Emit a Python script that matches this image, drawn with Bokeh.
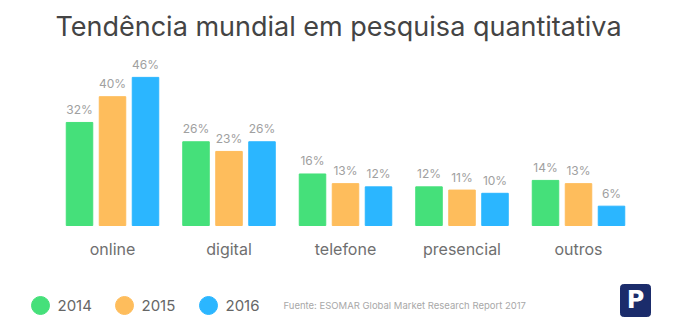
from bokeh.plotting import figure
from bokeh.models import Range1d, ColumnDataSource
from bokeh.core.properties import value
from bokeh.embed import file_html
from bokeh.resources import INLINE

categories = ["online", "digital", "telefone", "presencial", "outros"]
years = ["2014", "2015", "2016"]
v2014 = [32, 26, 16, 12, 14]
v2015 = [40, 23, 13, 11, 13]
v2016 = [46, 26, 12, 10, 6]
colors = ["#45E07A", "#FEBD5C", "#2BB6FF"]
title = "Tendência mundial em pesquisa quantitativa"
source_note = "Fuente: ESOMAR Global Market Research Report 2017"

W, H = 676, 335
base_px = 225.0
ppu = 3.22
p = figure(width=W, height=H, output_backend="svg", toolbar_location=None,
           x_range=Range1d(0, W), y_range=Range1d(-(H - base_px) / ppu, base_px / ppu),
           min_border=0)
p.axis.visible = False
p.grid.visible = False
p.outline_line_color = None
p.background_fill_color = "white"

def py(pix):
    # convert pixel-from-top to y units
    return (base_px - pix) / ppu

FONT = "Inter"
first = 112.0
step = 116.5
offs = [-33.0, 0.0, 33.0]
bw = 26.5
series = [v2014, v2015, v2016]
for j, vals in enumerate(series):
    xs = [first + i * step + offs[j] for i in range(len(categories))]
    src = ColumnDataSource(dict(x=xs, top=vals, lab=[f"{v}%" for v in vals],
                                ly=[v + 5.5 / ppu for v in vals]))
    p.vbar(x="x", top="top", bottom=0, width=bw, color=colors[j], source=src)
    p.text(x="x", y="ly", text="lab", source=src, text_align="center",
           text_baseline="bottom", text_font=value(FONT), text_font_size="12px",
           text_color="#a0a0a0")

cx = [first + i * step for i in range(len(categories))]
p.text(x=cx, y=[py(248)] * len(cx), text=categories, text_align="center",
       text_baseline="middle", text_font=value(FONT), text_font_size="16px",
       text_color="#6f6f6f")

p.text(x=[338], y=[py(26)], text=[title], text_align="center", text_baseline="middle",
       text_font=value(FONT), text_font_size="27px", text_color="#444444")

# legend
lx = [40, 124, 208]
p.scatter(x=lx, y=[py(305)] * 3, size=18, color=colors, marker="circle")
p.text(x=[x + 17 for x in lx], y=[py(305)] * 3, text=years, text_align="left",
       text_baseline="middle", text_font=value(FONT), text_font_size="15px",
       text_color="#666666")
p.text(x=[283], y=[py(305)], text=[source_note], text_align="left",
       text_baseline="middle", text_font=value(FONT), text_font_size="9.5px",
       text_color="#a8a8a8")

# logo
p.rect(x=[635], y=[py(300)], width=30, height=32 / ppu, color="#1B2C6B",
       border_radius=3)
p.text(x=[635], y=[py(299)], text=["P"], text_align="center", text_baseline="middle",
       text_font=value("DejaVu Sans"), text_font_size="24px", text_font_style="bold",
       text_color="white")

open("out.html", "w").write(file_html(p, INLINE))
